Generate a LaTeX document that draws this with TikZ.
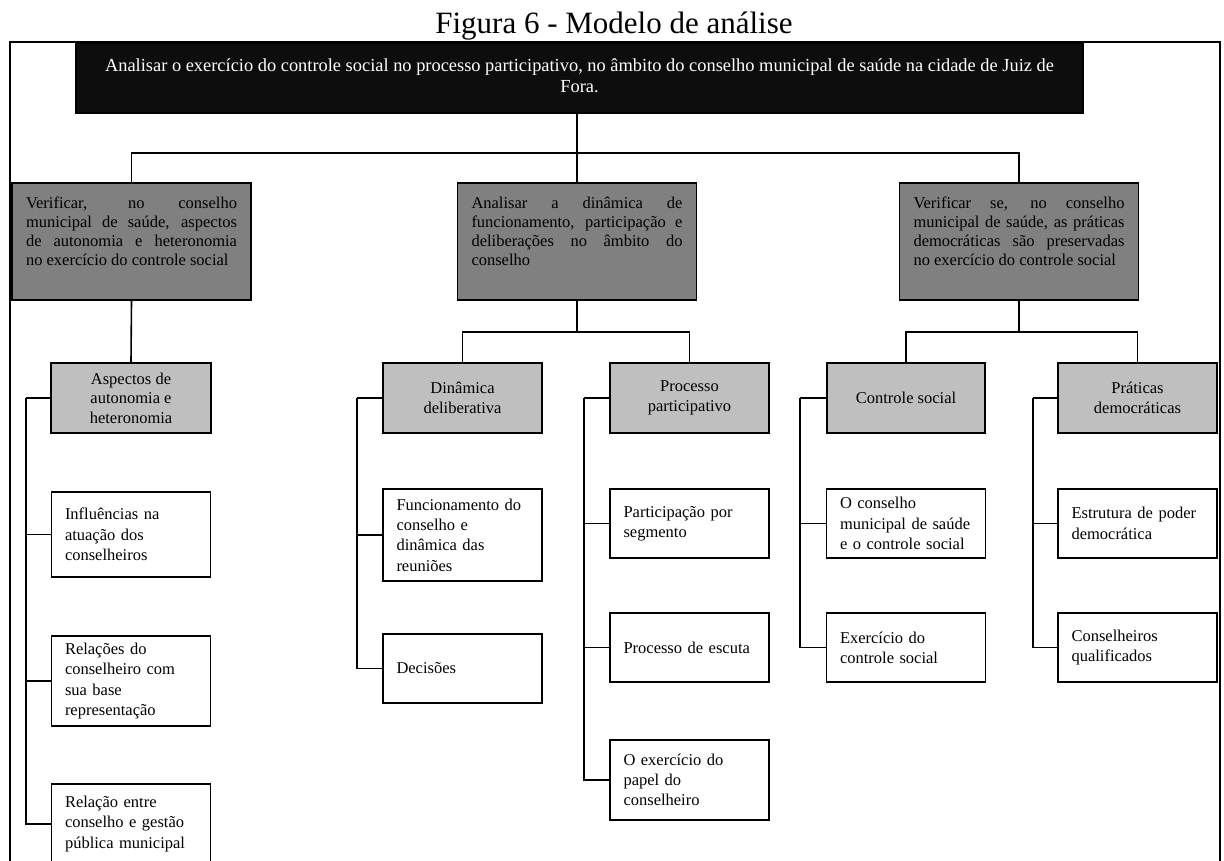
\documentclass[tikz,border=0pt]{standalone}
\usepackage{fontspec}
\setmainfont{Liberation Serif}
\newcommand\jline[2]{\makebox[#1][s]{#2}}
\definecolor{topblack}{HTML}{0D0D0D}
\definecolor{darkfill}{HTML}{808080}
\definecolor{lightfill}{HTML}{BFBFBF}
\tikzset{
  conn/.style={line width=1.6pt, draw=black},
  basebox/.style={draw=black, line width=1.8pt, inner sep=0pt},
  topbox/.style={basebox, fill=topblack, text=white, minimum width=1007pt, minimum height=70pt},
  darkbox/.style={basebox, fill=darkfill, minimum width=239pt, minimum height=117pt},
  lightbox/.style={basebox, fill=lightfill, minimum width=159pt, minimum height=70pt, align=center, font=\fontsize{16.5}{19.5}\selectfont},
  leafbox/.style={basebox, fill=white, text width=132pt, inner xsep=13.5pt, align=left, font=\fontsize{16.5}{20.3}\selectfont},
  titletext/.style={inner sep=0pt, font=\fontsize{31}{36}\selectfont}
}
\newcommand\darktext[1]{\parbox[c][117pt][t]{211pt}{\fontsize{16.5}{19}\selectfont\vspace{14pt}#1}}
\newcommand\toptext[1]{\parbox[c][70pt][t]{990pt}{\centering\fontsize{18.4}{21}\selectfont\vspace{16pt}#1}}
\begin{document}
\begin{tikzpicture}[x=1pt,y=-1pt]
\useasboundingbox (0,0) rectangle (1224,861);
\clip (0,0) rectangle (1224,861);
\fill[white] (0,0) rectangle (1224,861);
% title
\node[titletext, anchor=base] (title) at (614,34) {Figura 6 - Modelo de análise};
% frame
\draw[line width=2pt] (9.5,42.5) rectangle (1220,920);
% top box
\node[topbox] (top) at (579.5,78) {\toptext{Analisar o exercício do controle social no processo participativo, no âmbito do conselho municipal de saúde na cidade de Juiz de\\Fora.}};
% level 1
\node[darkbox] (l1) at (131.5,241.5) {\darktext{\jline{211pt}{Verificar, no conselho}\\\jline{211pt}{municipal de saúde, aspectos}\\\jline{211pt}{de autonomia e heteronomia}\\no exercício do controle social}};
\node[darkbox] (m1) at (577,241.5) {\darktext{\jline{211pt}{Analisar a dinâmica de}\\\jline{211pt}{funcionamento, participação e}\\\jline{211pt}{deliberações no âmbito do}\\conselho}};
\node[darkbox] (r1) at (1019,241.5) {\darktext{\jline{211pt}{Verificar se, no conselho}\\\jline{211pt}{municipal de saúde, as práticas}\\\jline{211pt}{democráticas são preservadas}\\no exercício do controle social}};
% level 2
\node[lightbox, minimum width=160pt] (asp) at (131,398) {Aspectos de\\autonomia e\\heteronomia};
\node[lightbox] (din) at (462.5,398) {Dinâmica\\deliberativa};
\node[lightbox] (pro) at (689.5,398) {Processo\\participativo};
\node[lightbox, minimum width=158pt] (con) at (906,398) {Controle social};
\node[lightbox] (pra) at (1137.5,398) {Práticas\\democráticas};
% leaves
\node[leafbox, minimum height=85pt] (inf) at (131,534.5) {Influências na\\atuação dos\\conselheiros};
\node[leafbox, minimum height=90pt] (rel) at (131,681) {Relações do\\conselheiro com\\sua base\\representação};
\node[leafbox, minimum height=80pt] (rel2) at (131,824) {Relação entre\\conselho e gestão\\pública municipal};
\node[leafbox, minimum height=92pt] (fun) at (462.5,535) {Funcionamento do\\conselho e\\dinâmica das\\reuniões};
\node[leafbox, minimum height=69pt] (dec) at (462.5,668.5) {Decisões};
\node[leafbox, minimum height=69pt] (par) at (689.5,523.5) {\jline{132pt}{Participação por}\\segmento};
\node[leafbox, minimum height=69pt] (esc) at (689.5,647.5) {Processo de escuta};
\node[leafbox, minimum height=80pt] (pap) at (689.5,780) {O exercício do\\papel do\\conselheiro};
\node[leafbox, minimum height=69pt] (ocs) at (906,523.5) {O conselho\\municipal de saúde\\e o controle social};
\node[leafbox, minimum height=69pt] (exe) at (906,647.5) {Exercício do\\controle social};
\node[leafbox, minimum height=69pt] (est) at (1137.5,523.5) {Estrutura de poder\\democrática};
\node[leafbox, minimum height=69pt] (cq) at (1137.5,647.5) {Conselheiros\\qualificados};
% connectors top level
\coordinate (tj) at (577,153);
\draw[conn] (tj |- top.south) -- (tj);
\draw[conn] (tj) -| (l1.north);
\draw[conn] (tj) -| (r1.north);
\draw[conn] (tj) -- (m1.north);
\draw[conn] (l1.south) -- (asp.north);
\coordinate (mj) at (577,332);
\draw[conn] (m1.south) -- (mj);
\draw[conn] (mj) -| (din.north);
\draw[conn] (mj) -| (pro.north);
\coordinate (rj) at (1019,332);
\draw[conn] (r1.south) -- (rj);
\draw[conn] (rj) -| (con.north);
\draw[conn] (rj) -| (pra.north);
% branches
\coordinate (ab) at (26,398);
\draw[conn] (asp.west) -- (ab);
\draw[conn] (ab) |- (inf.west);
\draw[conn] (ab) |- (rel.west);
\draw[conn] (ab) |- (rel2.west);
\coordinate (db) at (357,398);
\draw[conn] (din.west) -- (db);
\draw[conn] (db) |- (fun.west);
\draw[conn] (db) |- (dec.west);
\coordinate (pb) at (584,398);
\draw[conn] (pro.west) -- (pb);
\draw[conn] (pb) |- (par.west);
\draw[conn] (pb) |- (esc.west);
\draw[conn] (pb) |- (pap.west);
\coordinate (cb) at (800,398);
\draw[conn] (con.west) -- (cb);
\draw[conn] (cb) |- (ocs.west);
\draw[conn] (cb) |- (exe.west);
\coordinate (qb) at (1033,398);
\draw[conn] (pra.west) -- (qb);
\draw[conn] (qb) |- (est.west);
\draw[conn] (qb) |- (cq.west);
\end{tikzpicture}
\end{document}
